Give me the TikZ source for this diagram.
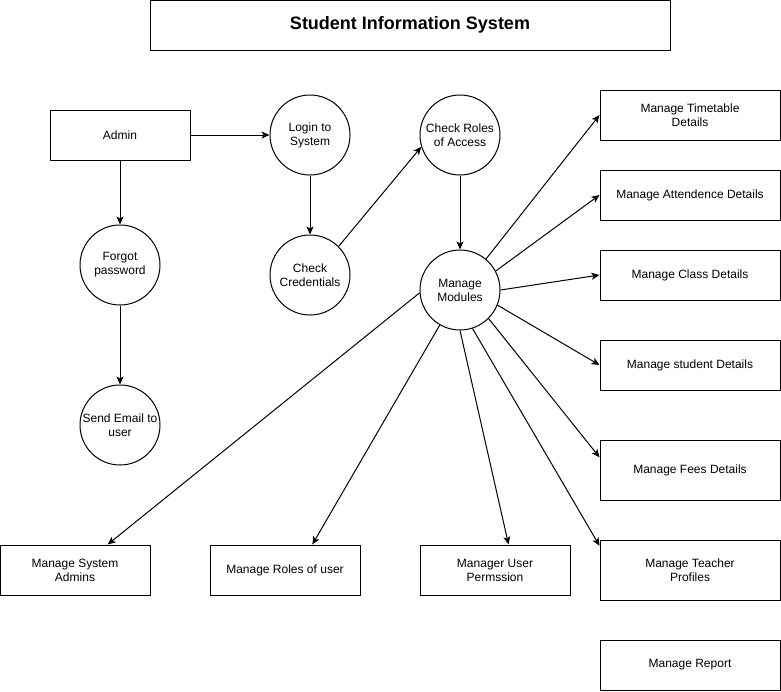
\documentclass[tikz,border=0pt]{standalone}
\usepackage{fontspec}
\setmainfont{Liberation Sans}
\usetikzlibrary{arrows.meta}

\begin{document}
\begin{tikzpicture}[x=1pt,y=-1pt,
	every node/.style={font=\fontsize{12}{14}\selectfont},
	box/.style={draw, line width=1pt, minimum width=#1, minimum height=50pt, inner sep=0pt, align=center},
	box/.default=180pt,
	tallbox/.style={box, minimum height=60pt},
	proc/.style={draw, circle, line width=1pt, minimum size=80pt, inner sep=0pt, align=center},
	flow/.style={line width=1pt, -{Stealth[length=8pt,width=7pt,inset=2pt]}}]
	\useasboundingbox (0,0) rectangle (781,691);

	% title
	\node[box=520pt, font=\fontsize{18}{21}\selectfont\bfseries] (title) at (410,25) {Student Information System};

	% login side
	\node[box=140pt] (admin) at (120,135) {Admin};
	\node[proc] (forgot) at (120,265) {Forgot\\password};
	\node[proc] (email) at (120,425) {Send Email to\\user};
	\node[proc] (login) at (310,135) {Login to\\System};
	\node[proc] (cred) at (310,275) {Check\\Credentials};
	\node[proc] (access) at (460,135) {Check Roles\\of Access};
	\node[proc] (modules) at (460,290) {Manage\\Modules};

	% modules on the right
	\node[box] (timetable) at (690,115) {Manage Timetable\\Details};
	\node[box] (attend) at (690,195) {Manage Attendence Details};
	\node[box] (class) at (690,275) {Manage Class Details};
	\node[box] (student) at (690,365) {Manage student Details};
	\node[tallbox] (fees) at (690,470) {Manage Fees Details};
	\node[tallbox] (teacher) at (690,570) {Manage Teacher\\Profiles};
	\node[box] (report) at (690,665) {Manage Report};

	% modules at the bottom
	\node[box=150pt] (sysadmin) at (75,570) {Manage System\\Admins};
	\node[box=150pt] (userroles) at (285,570) {Manage Roles of user};
	\node[box=150pt] (permission) at (495,570) {Manager User\\Permssion};

	\draw[flow] (admin) -- (login);
	\draw[flow] (admin) -- (forgot);
	\draw[flow] (forgot) -- (email);
	\draw[flow] (login) -- (cred);
	\draw[flow] (cred.45) -- (access.197);
	\draw[flow] (access) -- (modules);

	\draw[flow] (modules.50) -- (timetable.west);
	\draw[flow] (modules.28) -- (attend.west);
	\draw[flow] (modules.east) -- (class.west);
	\draw[flow] (modules.-22) -- (student.west);
	\draw[flow] (modules.-45) -- (fees.172);
	\draw[flow] (modules.-72) -- (teacher.165);
	\draw[flow] (modules.south) -- (permission.62);
	\draw[flow] (modules.-120) -- (userroles.43);
	\draw[flow] (modules.184) -- (sysadmin.38);
\end{tikzpicture}
\end{document}
